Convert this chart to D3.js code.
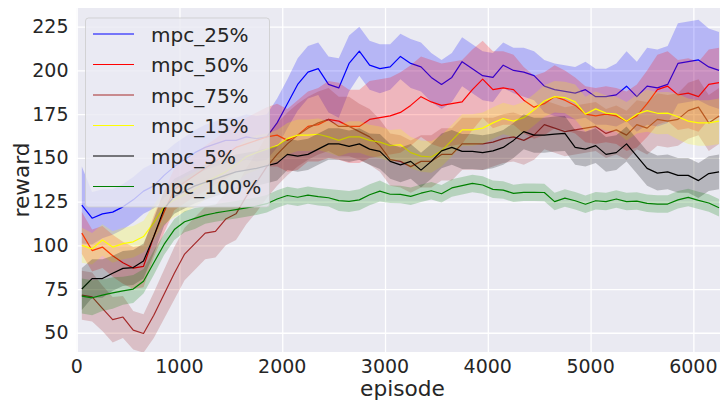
<!DOCTYPE html>
<html>
  <head>
    <meta charset="utf-8">
    <title>reward per episode</title>
    <script src="https://d3js.org/d3.v7.min.js"></script>
    <style>
      body { margin: 0; background: #fff; }
      text { font-family: "DejaVu Sans", sans-serif; fill: #262626; }
    </style>
  </head>
  <body>
  <script type="text/javascript">
    var episodes = [50,150,250,350,450,550,650,750,850,950,1050,1150,1250,1350,1450,1550,1650,1750,1850,1950,
      2050,2150,2250,2350,2450,2550,2650,2750,2850,2950,3050,3150,3250,3350,3450,3550,3650,3750,3850,3950,
      4050,4150,4250,4350,4450,4550,4650,4750,4850,4950,5050,5150,5250,5350,5450,5550,5650,5750,5850,5950,
      6050,6150,6250];

    var mpc25 = [123,115.5,118,119,122,126,131,134,140,145,149,153,156,158,160,160,162,161,162,170,
      181,192,199,201,192,190,204,211,203,201,202,208,204,202,196,192,196,205,201,197,
      196,203,200,199,197,191,189,188,187,189,185,185,186,191,185,191,190,192,204,205,
      206,202,200];
    var mpc25Band = [22,15,14,13,13,13,13,13,13,13,13,13,13,13,13,13,13,13,13,14,
      14,15,15,15,16,17,16,14,14,14,13,13,14,14,14,14,14,14,14,14,
      14,13,13,14,14,15,15,15,15,16,16,16,18,20,20,22,22,22,23,23,
      23,22,22];

    var mpc50 = [107,97,99,94,90,87,88,105,119,132,136,140,144,148,152,156,158,160,162,163,
      160,163,168,169,172,171,168,168,172,173,174,176,180,185,182,180,181,182,189,195,
      189,190,189,183,179,181,185,183,180,175,174,175,174,171,174,181,189,191,186,187,
      185,192,193];
    var mpc50Band = [12,12,12,12,12,12,12,12,12,12,12,12,13,13,14,14,15,16,17,18,
      18,20,20,21,22,22,21,21,22,22,22,23,23,23,24,24,24,24,23,22,
      22,21,20,19,18,18,18,17,16,16,16,16,16,17,18,19,20,20,20,20,
      20,20,20];

    var mpc75 = [71.5,70.5,64,57.5,59,51.5,49.6,60,72,84,95,101,107,108,115,118,128,136,145,152,
      158,163,167,170,172,168,168,165,162,157,149,148,145,148,148,152,152,158,158,158,
      159,161,162,160,163,169,167,165,166,167,168,164,166,163,169,167,172,171,172,177,
      179,170,174];
    var mpc75Band = [14,14,13,13,12,11,11,13,14,15,15,15,15,15,15,15,16,17,18,18,
      18,18,18,18,18,17,17,16,16,15,15,15,15,15,15,15,15,15,15,15,
      14,14,14,14,14,14,14,14,14,14,14,14,14,14,14,15,15,15,15,16,
      16,16,16];

    var mpc15 = [100,98,103,99,101,102,105,113,122,126,129,132,136,139,142,146,150.7,153,155,157,
      161,163,163,163.5,162,160,162,162,160,159,157,157.5,153,151,150.5,154,160,166,166,167,
      170,172.5,171,173,177.5,182.5,185,184.5,182,175,178,175.6,175,171,175,177,175.5,175.6,173.5,171,
      170,170,171];
    var mpc15Band = [10,9,9,9,9,9,9,10,10,10,10,10,10,10,10,10,10,10,9,9,
      9,9,9,9,9,9,9,9,9,9,9,9,9,9,9,9,9,9,9,9,
      9,9,9,9,9,9,9,9,10,10,10,10,10,11,11,12,12,12,13,13,
      13,13,13];

    var mpc5 = [75,81,81,84,86.8,87.3,91,105,121,128,131,134,136,138,140,142,143,144,145.5,147,
      152,151,152,155,158,158,156.6,158,155,153.7,148,146,148,143,148,154,156,153.7,153.7,153,
      154,156,160,165,163,163,163.6,164,156,155,157,152,153,158,151,144,141.3,142,140,140,
      137,141,142];
    var mpc5Band = [12,11,11,10,10,10,10,10,10,10,10,10,10,10,10,10,10,10,10,10,
      9,9,9,9,9,9,9,9,9,10,10,10,10,10,10,10,10,10,10,10,
      10,10,10,10,10,10,10,10,10,10,10,10,10,10,10,10,10,10,10,10,
      10,10,10];

    var mpc100 = [71,70,71.5,72.8,74,75,79.5,90,100.5,109,113.5,115.4,117.3,118.5,119.5,120.4,121.4,122.4,123.8,126.5,
      128.5,127.5,128.7,127.8,127.2,125.6,125.1,126,128.9,131,129.2,129.1,128,129.8,131.2,129.5,132.8,134.1,135.4,134.5,
      132,131.6,129.7,130.3,130.3,130.2,125,127,125.5,123.5,125.5,125,126.5,125,125.3,124,123.6,123.6,126,127.4,
      125.7,124.2,121.5];
    var mpc100Band = [10,10,9,9,8,8,7,7,6,6,6,6,5,5,5,5,5,5,5,5,
      5,5,5,5,5,6,6,6,6,6,5,5,5,5,5,5,5,5,5,5,
      5,5,5,5,5,5,5,5,5,5,5,5,5,5,5,5,5,5,5,5,
      5,5,5];

    var seriesNames = ["mpc_25%", "mpc_50%", "mpc_75%", "mpc_15%", "mpc_5%", "mpc_100%"];
    var seriesColors = ["#0000ff", "#ff0000", "#a52a2a", "#ffff00", "#000000", "#008000"];
    var seriesMeans = [mpc25, mpc50, mpc75, mpc15, mpc5, mpc100];
    var seriesBands = [mpc25Band, mpc50Band, mpc75Band, mpc15Band, mpc5Band, mpc100Band];

    var xTicks = [0, 1000, 2000, 3000, 4000, 5000, 6000];
    var yTicks = [50, 75, 100, 125, 150, 175, 200, 225];

    var W = 720, H = 403;
    var plotL = 76.7, plotR = 728.3, plotT = 8, plotB = 352;

    var svg = d3.select("body").append("svg")
      .attr("width", W)
      .attr("height", H);

    var x = d3.scaleLinear().domain([0, 6340]).range([plotL, plotR]);
    var y = d3.scaleLinear().domain([39, 235.7]).range([plotB, plotT]);

    svg.append("defs").append("clipPath").attr("id", "plotclip")
      .append("rect")
        .attr("x", plotL).attr("y", plotT)
        .attr("width", plotR - plotL).attr("height", plotB - plotT);

    svg.append("rect")
      .attr("x", plotL).attr("y", plotT)
      .attr("width", plotR - plotL).attr("height", plotB - plotT)
      .attr("fill", "#eaeaf2");

    // white grid
    svg.append("g")
      .attr("transform", "translate(0," + plotB + ")")
      .call(d3.axisBottom(x).tickValues(xTicks).tickSize(-(plotB - plotT)).tickFormat(""))
      .call(function(g){
        g.select(".domain").remove();
        g.selectAll("line").attr("stroke", "#fff").attr("stroke-width", 1.3);
      });
    svg.append("g")
      .attr("transform", "translate(" + plotL + ",0)")
      .call(d3.axisLeft(y).tickValues(yTicks).tickSize(-(plotR - plotL)).tickFormat(""))
      .call(function(g){
        g.select(".domain").remove();
        g.selectAll("line").attr("stroke", "#fff").attr("stroke-width", 1.3);
      });

    var plot = svg.append("g").attr("clip-path", "url(#plotclip)");

    var area = d3.area()
      .x(function(d){ return x(d.ep); })
      .y0(function(d){ return y(d.m - d.s); })
      .y1(function(d){ return y(d.m + d.s); });

    var line = d3.line()
      .x(function(d){ return x(d.ep); })
      .y(function(d){ return y(d.m); });

    seriesNames.forEach(function(name, k){
      var rows = episodes.map(function(ep, i){
        return { ep: ep, m: seriesMeans[k][i], s: seriesBands[k][i] };
      });
      plot.append("path")
        .datum(rows)
        .attr("d", area)
        .attr("fill", seriesColors[k])
        .attr("fill-opacity", 0.22)
        .attr("stroke", "none");
      plot.append("path")
        .datum(rows)
        .attr("d", line)
        .attr("fill", "none")
        .attr("stroke", seriesColors[k])
        .attr("stroke-width", 1.2)
        .attr("stroke-linejoin", "round");
    });

    // tick labels
    svg.append("g").selectAll("text")
      .data(xTicks).enter()
      .append("text")
        .attr("x", function(d){ return x(d); })
        .attr("y", 372.5)
        .attr("text-anchor", "middle")
        .style("font-size", "19px")
        .text(function(d){ return d; });

    svg.append("g").selectAll("text")
      .data(yTicks).enter()
      .append("text")
        .attr("x", 68.5)
        .attr("y", function(d){ return y(d) + 6.6; })
        .attr("text-anchor", "end")
        .style("font-size", "19px")
        .text(function(d){ return d; });

    svg.append("text")
      .attr("x", (plotL + plotR) / 2)
      .attr("y", 396)
      .attr("text-anchor", "middle")
      .style("font-size", "21.7px")
      .text("episode");

    svg.append("text")
      .attr("transform", "translate(29," + ((plotT + plotB) / 2) + ") rotate(-90)")
      .attr("text-anchor", "middle")
      .style("font-size", "21.7px")
      .text("reward");

    // legend
    var legend = svg.append("g");
    legend.append("rect")
      .attr("x", 85.5).attr("y", 18)
      .attr("width", 184).attr("height", 189)
      .attr("rx", 3)
      .attr("fill", "#eaeaf2").attr("fill-opacity", 0.8)
      .attr("stroke", "#cccccc").attr("stroke-opacity", 0.8)
      .attr("stroke-width", 1);

    seriesNames.forEach(function(name, k){
      var ly = 34 + k * 30.5;
      legend.append("line")
        .attr("x1", 93).attr("x2", 134)
        .attr("y1", ly).attr("y2", ly)
        .attr("stroke", seriesColors[k])
        .attr("stroke-width", 1.2);
      legend.append("text")
        .attr("x", 151)
        .attr("y", ly + 7.6)
        .style("font-size", "20px")
        .text(name);
    });
  </script>
  </body>
</html>
